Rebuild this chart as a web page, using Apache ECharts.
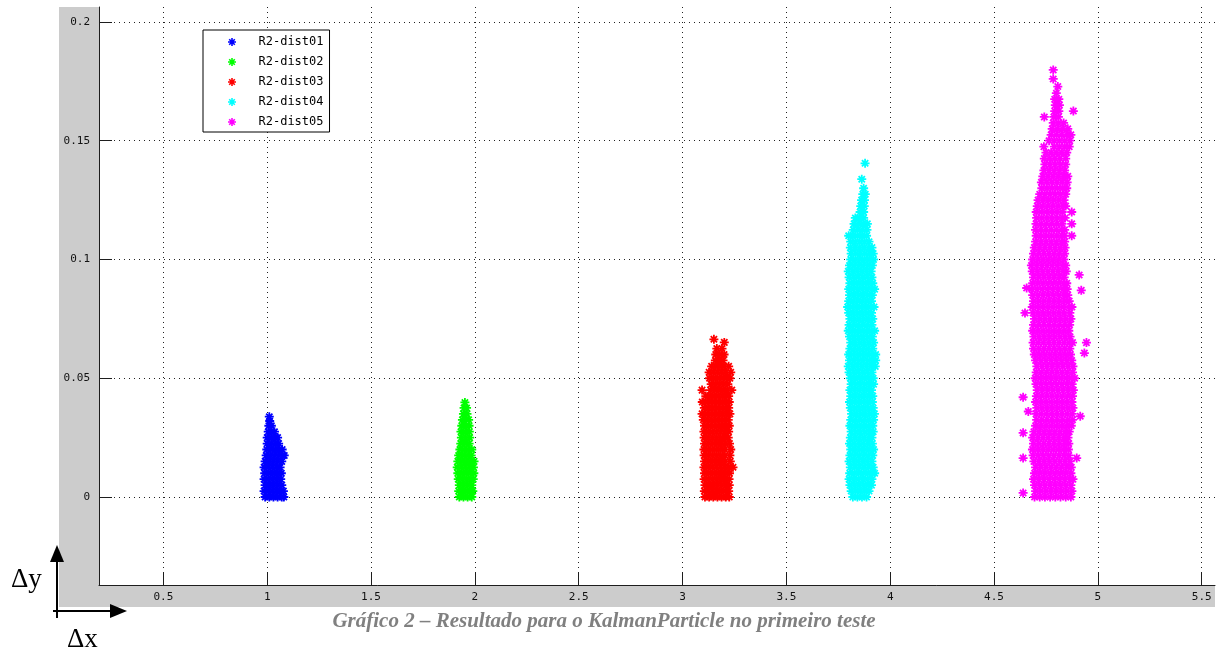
<!DOCTYPE html>
<html>
<head>
<meta charset="utf-8">
<script src="https://cdn.jsdelivr.net/npm/echarts@6/dist/echarts.min.js"></script>
<style>
  html, body { margin: 0; padding: 0; background: #ffffff; }
  #chart { width: 1221px; height: 655px; }
</style>
</head>
<body>
<div id="chart"></div>
<script>
// Series names and marker colours
const seriesNames = ['R2-dist01', 'R2-dist02', 'R2-dist03', 'R2-dist04', 'R2-dist05'];
const seriesColors = ['#0000ff', '#00ff00', '#ff0000', '#00ffff', '#ff00ff'];

// Tick positions on both axes
const xTicks = [0.5, 1, 1.5, 2, 2.5, 3, 3.5, 4, 4.5, 5, 5.5];
const yTicks = [0, 0.05, 0.1, 0.15, 0.2];

// Particle errors, one row per Δy level: [Δy, Δx, Δx, ...]
const dist01Rows = [
  [0, 0.99, 1.01, 1.03, 1.05, 1.07, 1.08],
  [0.0025, 0.985, 1.005, 1.025, 1.045, 1.065, 1.078],
  [0.005, 0.99, 1.01, 1.03, 1.05, 1.07],
  [0.0075, 0.985, 1.005, 1.025, 1.045, 1.065],
  [0.01, 0.988, 1.008, 1.028, 1.048, 1.068],
  [0.0125, 0.985, 1.005, 1.025, 1.045, 1.062],
  [0.015, 0.99, 1.01, 1.03, 1.05, 1.07],
  [0.0175, 0.995, 1.015, 1.035, 1.055, 1.075, 1.082],
  [0.02, 0.998, 1.018, 1.038, 1.058, 1.072],
  [0.0225, 1.0, 1.02, 1.04, 1.055],
  [0.025, 1.0, 1.02, 1.04, 1.05],
  [0.0275, 1.005, 1.02, 1.035],
  [0.03, 1.008, 1.02],
  [0.032, 1.012],
  [0.0338, 1.01]
];

const dist02Rows = [
  [0, 1.925, 1.945, 1.965, 1.985],
  [0.0025, 1.922, 1.942, 1.962, 1.982, 1.99],
  [0.005, 1.925, 1.945, 1.965, 1.985],
  [0.0075, 1.92, 1.94, 1.96, 1.98, 1.992],
  [0.01, 1.918, 1.938, 1.958, 1.978, 1.995],
  [0.0125, 1.915, 1.935, 1.955, 1.975, 1.993],
  [0.015, 1.918, 1.938, 1.958, 1.978, 1.996],
  [0.0175, 1.922, 1.942, 1.962, 1.982],
  [0.02, 1.928, 1.948, 1.968, 1.985],
  [0.0225, 1.932, 1.952, 1.972],
  [0.025, 1.935, 1.955, 1.975],
  [0.0275, 1.933, 1.953, 1.973],
  [0.03, 1.937, 1.957, 1.972],
  [0.0325, 1.94, 1.958, 1.97],
  [0.035, 1.945, 1.962],
  [0.0375, 1.948, 1.96],
  [0.0398, 1.952]
];

const dist03Rows = [
  [0, 3.108, 3.128, 3.148, 3.168, 3.188, 3.208, 3.225],
  [0.0025, 3.105, 3.125, 3.145, 3.165, 3.185, 3.205, 3.222],
  [0.005, 3.108, 3.128, 3.148, 3.168, 3.188, 3.208, 3.225],
  [0.0075, 3.104, 3.124, 3.144, 3.164, 3.184, 3.204, 3.224],
  [0.01, 3.106, 3.126, 3.146, 3.166, 3.186, 3.206, 3.226],
  [0.0125, 3.103, 3.123, 3.143, 3.163, 3.183, 3.203, 3.223, 3.243],
  [0.015, 3.106, 3.126, 3.146, 3.166, 3.186, 3.206, 3.23],
  [0.0175, 3.104, 3.124, 3.144, 3.164, 3.184, 3.204, 3.228],
  [0.02, 3.103, 3.123, 3.143, 3.163, 3.183, 3.203, 3.232],
  [0.0225, 3.106, 3.126, 3.146, 3.166, 3.186, 3.206, 3.226],
  [0.025, 3.104, 3.124, 3.144, 3.164, 3.184, 3.204, 3.22],
  [0.0275, 3.103, 3.123, 3.143, 3.163, 3.183, 3.203, 3.222],
  [0.03, 3.106, 3.126, 3.146, 3.166, 3.186, 3.206, 3.225],
  [0.0325, 3.1, 3.12, 3.14, 3.16, 3.18, 3.2, 3.22],
  [0.035, 3.094, 3.112, 3.132, 3.152, 3.172, 3.192, 3.212, 3.228],
  [0.0375, 3.105, 3.125, 3.145, 3.165, 3.185, 3.205, 3.222],
  [0.04, 3.095, 3.112, 3.132, 3.152, 3.172, 3.192, 3.212, 3.225],
  [0.0425, 3.112, 3.132, 3.152, 3.172, 3.192, 3.212, 3.222],
  [0.045, 3.094, 3.135, 3.155, 3.175, 3.195, 3.215, 3.237],
  [0.0475, 3.138, 3.158, 3.178, 3.198, 3.218],
  [0.05, 3.13, 3.15, 3.17, 3.19, 3.21, 3.228],
  [0.0525, 3.128, 3.148, 3.168, 3.188, 3.208, 3.232],
  [0.055, 3.14, 3.16, 3.18, 3.2, 3.222],
  [0.0575, 3.158, 3.175, 3.195],
  [0.06, 3.16, 3.18, 3.2],
  [0.0625, 3.165, 3.19],
  [0.0651, 3.201],
  [0.0664, 3.151]
];

const dist04Rows = [
  [0, 3.82, 3.842, 3.864, 3.886],
  [0.0025, 3.812, 3.834, 3.856, 3.878, 3.898],
  [0.005, 3.806, 3.828, 3.85, 3.872, 3.894, 3.91],
  [0.0075, 3.802, 3.824, 3.846, 3.868, 3.89, 3.912],
  [0.01, 3.805, 3.827, 3.849, 3.871, 3.893, 3.915, 3.925],
  [0.0125, 3.808, 3.83, 3.852, 3.874, 3.896, 3.918],
  [0.015, 3.802, 3.824, 3.846, 3.868, 3.89, 3.912],
  [0.0175, 3.806, 3.828, 3.85, 3.872, 3.894, 3.916],
  [0.02, 3.81, 3.832, 3.854, 3.876, 3.898, 3.92],
  [0.0225, 3.804, 3.826, 3.848, 3.87, 3.892, 3.914],
  [0.025, 3.808, 3.83, 3.852, 3.874, 3.896, 3.912],
  [0.0275, 3.812, 3.834, 3.856, 3.878, 3.9, 3.918],
  [0.03, 3.806, 3.828, 3.85, 3.872, 3.894, 3.916],
  [0.0325, 3.81, 3.832, 3.854, 3.876, 3.898, 3.92],
  [0.035, 3.814, 3.836, 3.858, 3.88, 3.902, 3.924],
  [0.0375, 3.808, 3.83, 3.852, 3.874, 3.896, 3.918],
  [0.04, 3.804, 3.826, 3.848, 3.87, 3.892, 3.914],
  [0.0425, 3.81, 3.832, 3.854, 3.876, 3.898, 3.916],
  [0.045, 3.806, 3.828, 3.85, 3.872, 3.894, 3.91],
  [0.0475, 3.812, 3.834, 3.856, 3.878, 3.9, 3.92],
  [0.05, 3.808, 3.83, 3.852, 3.874, 3.896, 3.918],
  [0.0525, 3.802, 3.824, 3.846, 3.868, 3.89, 3.912],
  [0.055, 3.798, 3.82, 3.842, 3.864, 3.886, 3.908, 3.928],
  [0.0575, 3.804, 3.826, 3.848, 3.87, 3.892, 3.914, 3.93],
  [0.06, 3.8, 3.822, 3.844, 3.866, 3.888, 3.91, 3.93],
  [0.0625, 3.806, 3.828, 3.85, 3.872, 3.894, 3.916],
  [0.065, 3.81, 3.832, 3.854, 3.876, 3.898, 3.92],
  [0.0675, 3.804, 3.826, 3.848, 3.87, 3.892, 3.914],
  [0.07, 3.798, 3.82, 3.842, 3.864, 3.886, 3.908, 3.925],
  [0.0725, 3.802, 3.824, 3.846, 3.868, 3.89, 3.912],
  [0.075, 3.806, 3.828, 3.85, 3.872, 3.894, 3.916],
  [0.0775, 3.8, 3.822, 3.844, 3.866, 3.888, 3.91],
  [0.08, 3.795, 3.817, 3.839, 3.861, 3.883, 3.905, 3.922],
  [0.0825, 3.8, 3.822, 3.844, 3.866, 3.888, 3.91],
  [0.085, 3.804, 3.826, 3.848, 3.87, 3.892, 3.914],
  [0.0875, 3.8, 3.822, 3.844, 3.866, 3.888, 3.91, 3.925],
  [0.09, 3.806, 3.828, 3.85, 3.872, 3.894, 3.916],
  [0.0925, 3.802, 3.824, 3.846, 3.868, 3.89, 3.912],
  [0.095, 3.798, 3.82, 3.842, 3.864, 3.886, 3.908],
  [0.0975, 3.804, 3.826, 3.848, 3.87, 3.892, 3.914],
  [0.1, 3.81, 3.832, 3.854, 3.876, 3.898, 3.92],
  [0.1025, 3.812, 3.834, 3.856, 3.878, 3.9, 3.918],
  [0.105, 3.808, 3.83, 3.852, 3.874, 3.896, 3.912],
  [0.1075, 3.81, 3.832, 3.854, 3.876, 3.898],
  [0.11, 3.8, 3.82, 3.842, 3.864, 3.886],
  [0.1125, 3.822, 3.844, 3.866, 3.888],
  [0.115, 3.826, 3.848, 3.87, 3.89],
  [0.1175, 3.832, 3.852, 3.872],
  [0.12, 3.855, 3.872],
  [0.1225, 3.858, 3.875],
  [0.125, 3.862, 3.876],
  [0.1275, 3.868, 3.88],
  [0.13, 3.872],
  [0.1338, 3.863],
  [0.1405, 3.879]
];

const dist05Rows = [
  [0, 4.695, 4.72, 4.745, 4.77, 4.795, 4.82, 4.845, 4.87],
  [0.0025, 4.7, 4.725, 4.75, 4.775, 4.8, 4.825, 4.85, 4.875],
  [0.005, 4.695, 4.72, 4.745, 4.77, 4.795, 4.82, 4.845, 4.87],
  [0.0075, 4.69, 4.715, 4.74, 4.765, 4.79, 4.815, 4.84, 4.865, 4.88],
  [0.01, 4.695, 4.72, 4.745, 4.77, 4.795, 4.82, 4.845, 4.87],
  [0.0125, 4.7, 4.725, 4.75, 4.775, 4.8, 4.825, 4.85, 4.872],
  [0.015, 4.692, 4.717, 4.742, 4.767, 4.792, 4.817, 4.842, 4.866],
  [0.0175, 4.688, 4.713, 4.738, 4.763, 4.788, 4.813, 4.838, 4.86],
  [0.02, 4.685, 4.71, 4.735, 4.76, 4.785, 4.81, 4.835, 4.858],
  [0.0225, 4.69, 4.715, 4.74, 4.765, 4.79, 4.815, 4.84, 4.86],
  [0.025, 4.686, 4.711, 4.736, 4.761, 4.786, 4.811, 4.836, 4.856],
  [0.0275, 4.692, 4.717, 4.742, 4.767, 4.792, 4.817, 4.842, 4.862],
  [0.03, 4.7, 4.725, 4.75, 4.775, 4.8, 4.825, 4.85, 4.872],
  [0.0325, 4.705, 4.73, 4.755, 4.78, 4.805, 4.83, 4.855, 4.878],
  [0.035, 4.702, 4.727, 4.752, 4.777, 4.802, 4.827, 4.852, 4.876],
  [0.0375, 4.706, 4.731, 4.756, 4.781, 4.806, 4.831, 4.856, 4.88],
  [0.04, 4.7, 4.725, 4.75, 4.775, 4.8, 4.825, 4.85, 4.875],
  [0.0425, 4.704, 4.729, 4.754, 4.779, 4.804, 4.829, 4.854, 4.878],
  [0.045, 4.708, 4.733, 4.758, 4.783, 4.808, 4.833, 4.858, 4.882],
  [0.0475, 4.702, 4.727, 4.752, 4.777, 4.802, 4.827, 4.852, 4.876],
  [0.05, 4.698, 4.723, 4.748, 4.773, 4.798, 4.823, 4.848, 4.872, 4.888],
  [0.0525, 4.703, 4.728, 4.753, 4.778, 4.803, 4.828, 4.853, 4.878],
  [0.055, 4.706, 4.731, 4.756, 4.781, 4.806, 4.831, 4.856, 4.88],
  [0.0575, 4.7, 4.725, 4.75, 4.775, 4.8, 4.825, 4.85, 4.874],
  [0.06, 4.694, 4.719, 4.744, 4.769, 4.794, 4.819, 4.844, 4.868],
  [0.0625, 4.69, 4.715, 4.74, 4.765, 4.79, 4.815, 4.84, 4.865],
  [0.065, 4.688, 4.713, 4.738, 4.763, 4.788, 4.813, 4.838, 4.862, 4.878],
  [0.0675, 4.692, 4.717, 4.742, 4.767, 4.792, 4.817, 4.842, 4.866],
  [0.07, 4.686, 4.711, 4.736, 4.761, 4.786, 4.811, 4.836, 4.86],
  [0.0725, 4.69, 4.715, 4.74, 4.765, 4.79, 4.815, 4.84, 4.864],
  [0.075, 4.695, 4.72, 4.745, 4.77, 4.795, 4.82, 4.845, 4.87],
  [0.0775, 4.688, 4.713, 4.738, 4.763, 4.788, 4.813, 4.838, 4.865],
  [0.08, 4.684, 4.709, 4.734, 4.759, 4.784, 4.809, 4.834, 4.86, 4.875],
  [0.0825, 4.69, 4.715, 4.74, 4.765, 4.79, 4.815, 4.84, 4.862],
  [0.085, 4.686, 4.711, 4.736, 4.761, 4.786, 4.811, 4.836, 4.855],
  [0.0875, 4.682, 4.707, 4.732, 4.757, 4.782, 4.807, 4.832, 4.852],
  [0.09, 4.686, 4.711, 4.736, 4.761, 4.786, 4.811, 4.836, 4.85],
  [0.0925, 4.69, 4.715, 4.74, 4.765, 4.79, 4.815, 4.838],
  [0.095, 4.684, 4.709, 4.734, 4.759, 4.784, 4.809, 4.834, 4.848],
  [0.0975, 4.68, 4.705, 4.73, 4.755, 4.78, 4.805, 4.83, 4.845],
  [0.1, 4.686, 4.711, 4.736, 4.761, 4.786, 4.811, 4.836],
  [0.1025, 4.69, 4.715, 4.74, 4.765, 4.79, 4.815, 4.84],
  [0.105, 4.694, 4.719, 4.744, 4.769, 4.794, 4.819, 4.842],
  [0.1075, 4.7, 4.725, 4.75, 4.775, 4.8, 4.825, 4.84],
  [0.11, 4.703, 4.728, 4.753, 4.778, 4.803, 4.828, 4.838],
  [0.1125, 4.7, 4.725, 4.75, 4.775, 4.8, 4.825, 4.84],
  [0.115, 4.702, 4.727, 4.752, 4.777, 4.802, 4.827],
  [0.1175, 4.705, 4.73, 4.755, 4.78, 4.805, 4.83, 4.842],
  [0.12, 4.703, 4.728, 4.753, 4.778, 4.803, 4.828],
  [0.1225, 4.708, 4.733, 4.758, 4.783, 4.808, 4.833, 4.845],
  [0.125, 4.712, 4.737, 4.762, 4.787, 4.812, 4.837],
  [0.1275, 4.72, 4.745, 4.77, 4.795, 4.82, 4.845],
  [0.13, 4.73, 4.755, 4.78, 4.805, 4.83, 4.85],
  [0.1325, 4.728, 4.753, 4.778, 4.803, 4.828, 4.852],
  [0.135, 4.735, 4.76, 4.785, 4.81, 4.835, 4.855],
  [0.1375, 4.74, 4.765, 4.79, 4.815, 4.84],
  [0.14, 4.745, 4.77, 4.795, 4.82, 4.845],
  [0.1425, 4.742, 4.767, 4.792, 4.817, 4.845],
  [0.145, 4.75, 4.775, 4.8, 4.825, 4.85],
  [0.1475, 4.74, 4.79, 4.815, 4.84, 4.862],
  [0.15, 4.765, 4.79, 4.815, 4.84, 4.865],
  [0.1525, 4.775, 4.8, 4.825, 4.85, 4.87],
  [0.155, 4.78, 4.805, 4.83, 4.855],
  [0.1575, 4.785, 4.81, 4.835],
  [0.16, 4.742, 4.788, 4.81],
  [0.1625, 4.792, 4.812, 4.882],
  [0.165, 4.795, 4.815],
  [0.1675, 4.792, 4.812],
  [0.17, 4.8],
  [0.1728, 4.807],
  [0.176, 4.785],
  [0.1798, 4.785],
  // scattered particles outside the main column
  [0.0017, 4.64],
  [0.0164, 4.64, 4.898],
  [0.027, 4.64],
  [0.034, 4.915],
  [0.036, 4.665],
  [0.042, 4.64],
  [0.0606, 4.935],
  [0.065, 4.945],
  [0.0775, 4.649],
  [0.087, 4.92],
  [0.088, 4.657],
  [0.0935, 4.91],
  [0.11, 4.874],
  [0.115, 4.874],
  [0.12, 4.874]
];

const allRows = [dist01Rows, dist02Rows, dist03Rows, dist04Rows, dist05Rows];

// MATLAB-style '*' marker: vertical, horizontal and two diagonal strokes
const ASTERISK = 'path://M40 0L60 0L60 100L40 100Z' +
  'M0 40L100 40L100 60L0 60Z' +
  'M8 22L22 8L92 78L78 92Z' +
  'M78 8L92 22L22 92L8 78Z';

function rowsToPoints(rows) {
  const pts = [];
  rows.forEach(function (r) {
    for (let i = 1; i < r.length; i++) pts.push([r[i], r[0]]);
  });
  return pts;
}

const chart = echarts.init(document.getElementById('chart'), null, { renderer: 'canvas' });

const axisColor = '#1e1e1e';
const tickFont = { fontFamily: 'DejaVu Sans Mono', fontSize: 11, color: '#111111' };

const option = {
  animation: false,
  backgroundColor: '#ffffff',
  grid: { left: 99, top: 7, right: 6, bottom: 70, outerBoundsMode: 'none', containLabel: false },
  legend: {
    orient: 'vertical',
    left: 203,
    top: 30,
    padding: [2, 6, 0, 25],
    itemGap: 0,
    itemWidth: 25,
    itemHeight: 8,
    backgroundColor: '#ffffff',
    borderColor: '#000000',
    borderWidth: 1,
    selectedMode: false,
    textStyle: { fontFamily: 'DejaVu Sans Mono', fontSize: 12, color: '#000000', lineHeight: 20, padding: [0, 0, 0, 9] },
    data: seriesNames.map(function (n) { return { name: n, icon: ASTERISK }; })
  },
  xAxis: {
    type: 'value',
    min: 0.19,
    max: 5.564,
    axisLine: { show: true, onZero: false, lineStyle: { color: axisColor, width: 1 } },
    axisTick: { show: true, inside: true, length: 13, customValues: xTicks, lineStyle: { color: axisColor, width: 1 } },
    axisLabel: Object.assign({ customValues: xTicks, margin: 7 }, tickFont),
    splitLine: { show: true, lineStyle: { color: '#222222', width: 1, type: [1, 4] } }
  },
  yAxis: {
    type: 'value',
    min: -0.03705,
    max: 0.2063,
    axisLine: { show: true, onZero: false, lineStyle: { color: axisColor, width: 1 } },
    axisTick: { show: true, inside: true, length: 13, customValues: yTicks, lineStyle: { color: axisColor, width: 1 } },
    axisLabel: Object.assign({ customValues: yTicks, margin: 9 }, tickFont),
    splitLine: { show: true, lineStyle: { color: '#222222', width: 1, type: [1, 4] } }
  },
  series: seriesNames.map(function (name, i) {
    return {
      name: name,
      type: 'scatter',
      symbol: ASTERISK,
      symbolSize: 9,
      itemStyle: { color: seriesColors[i], opacity: 1 },
      emphasis: { disabled: true },
      large: false,
      progressive: 0,
      data: rowsToPoints(allRows[i])
    };
  }),
  graphic: {
    elements: [
      // grey figure background around the axes
      { type: 'rect', z: -10, silent: true, shape: { x: 59, y: 7, width: 40, height: 600 }, style: { fill: '#cccccc' } },
      { type: 'rect', z: -10, silent: true, shape: { x: 59, y: 585, width: 1156, height: 22 }, style: { fill: '#cccccc' } },
      // Δx / Δy direction arrows
      { type: 'line', silent: true, shape: { x1: 57, y1: 618, x2: 57, y2: 558 }, style: { stroke: '#000000', lineWidth: 2 } },
      { type: 'polygon', silent: true, shape: { points: [[57, 545], [50, 562], [64, 562]] }, style: { fill: '#000000' } },
      { type: 'line', silent: true, shape: { x1: 53, y1: 611, x2: 114, y2: 611 }, style: { stroke: '#000000', lineWidth: 2 } },
      { type: 'polygon', silent: true, shape: { points: [[127, 611], [110, 604], [110, 618]] }, style: { fill: '#000000' } },
      { type: 'text', silent: true, x: 11, y: 580,
        style: { text: 'Δy', fill: '#000000', font: '27px "Liberation Serif", serif', align: 'left', verticalAlign: 'middle' } },
      { type: 'text', silent: true, x: 67, y: 640,
        style: { text: 'Δx', fill: '#000000', font: '27px "Liberation Serif", serif', align: 'left', verticalAlign: 'middle' } },
      // figure caption
      { type: 'text', silent: true, x: 604, y: 622,
        style: { text: 'Gráfico 2 – Resultado para o KalmanParticle no primeiro teste', fill: '#808080',
                 font: 'italic bold 21px "Liberation Serif", serif', align: 'center', verticalAlign: 'middle' } }
    ]
  }
};

chart.setOption(option);
</script>
</body>
</html>
